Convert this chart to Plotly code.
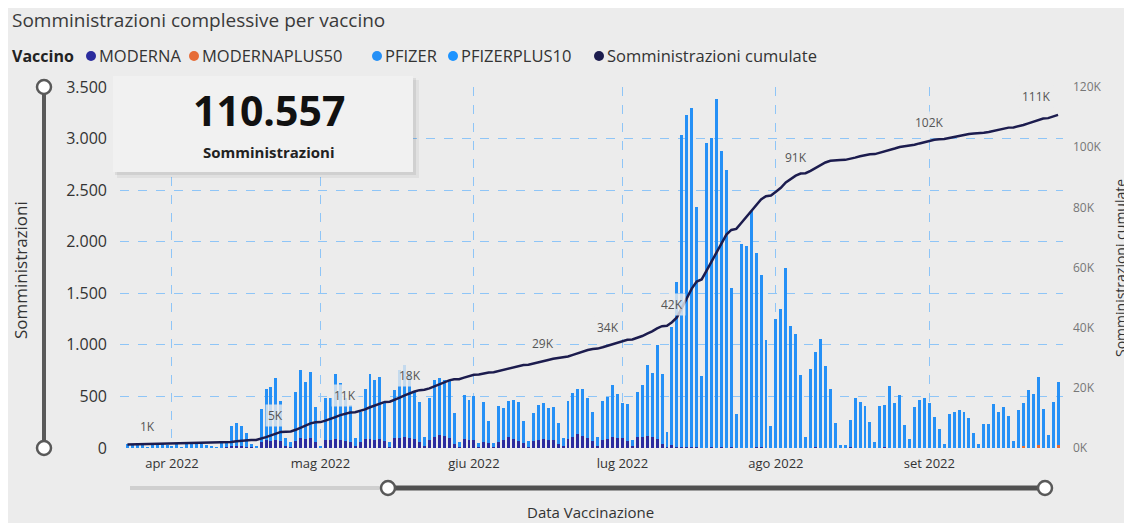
import numpy as np
import pandas as pd
import plotly.graph_objects as go

# ---------------- data ----------------
start_date = "2022-03-23"
end_date = "2022-09-27"
dates = pd.date_range(start_date, end_date, freq="D")

pfizer = [
    35, 40, 30, 25, 5, 45, 40, 35, 30, 20, 50, 5, 40, 45, 40, 35, 30, 10, 5, 60,
    65, 198, 225, 198, 135, 35, 20,
    315, 494, 525, 596, 394, 77, 50,
    476, 661, 553, 640, 340, 15,
    406, 401, 624, 553, 411, 357, 85,
    292, 484, 624, 579, 601, 363, 50,
    467, 656, 695, 624, 456, 389, 95,
    401, 549, 546, 539, 558, 302, 51,
    429, 390, 428, 35, 389, 220, 35,
    347, 305, 349, 375, 379, 215, 55,
    266, 337, 348, 310, 326, 199, 79,
    374, 426, 434, 449, 381, 282, 95,
    379, 408, 501, 424, 338, 357, 63,
    436, 506, 685, 614, 909, 680, 148,
    1146, 1600, 3025, 3225, 3290, 2335, 698,
    2960, 3000, 3380, 2870, 2700, 1540, 330,
    1980, 1960, 2300, 1882, 1672, 1050, 213,
    1250, 1350, 1750, 1183, 1102, 708, 110,
    769, 924, 1057, 795, 569, 239, 29,
    29, 263, 482, 449, 407, 255, 61,
    404, 408, 601, 433, 514, 223, 84,
    401, 465, 488, 433, 304, 181, 39,
    330, 349, 368, 346, 288, 142, 36,
    233, 233, 423, 352, 394, 314, 68,
    368, 413, 562, 524, 667, 378, 126,
    449, 618,
]

moderna = [
    0, 0, 0, 0, 0, 0, 0, 0, 0, 0, 0, 0, 0, 0, 0, 0, 0, 0, 0, 0,
    5, 15, 20, 15, 10, 5, 0,
    60, 75, 70, 80, 65, 20, 10,
    70, 95, 90, 100, 60, 5,
    75, 80, 90, 80, 70, 60, 15,
    60, 85, 90, 80, 90, 70, 10,
    95, 100, 110, 100, 90, 60, 15,
    80, 110, 130, 120, 95, 40, 10,
    85, 75, 80, 10, 60, 45, 10,
    60, 80, 110, 90, 70, 50, 10,
    70, 80, 85, 75, 75, 40, 15,
    85, 110, 135, 120, 100, 70, 15,
    80, 90, 110, 100, 95, 70, 15,
    110, 105, 120, 110, 90, 40, 10,
    30, 10, 5, 5, 10, 5, 0,
    0, 10, 0, 10, 0, 10, 0,
    0, 0, 0, 8, 8, 0, 0,
    0, 0, 0, 0, 0, 0, 0,
    0, 10, 0, 0, 0, 0, 0,
    0, 8, 0, 0, 0, 0, 0,
    0, 12, 0, 0, 0, 0, 0,
    0, 0, 0, 0, 0, 0, 0,
    0, 0, 0, 0, 0, 0, 0,
    0, 0, 0, 0, 0, 0, 0,
    0, 0, 0, 0, 0, 0, 0,
    0, 0,
]

modernaplus50 = [0] * 181 + [20, 0, 0, 25, 0, 0, 0, 25]
pfizerplus10 = [0] * 189

cumulate_start = 1100          # administrations before the shown period
card_value = 110557
label_idx = [4, 30, 44, 57, 84, 97, 110, 135, 162, 188]

month_ticks = ["2022-04-01", "2022-05-01", "2022-06-01", "2022-07-01", "2022-08-01", "2022-09-01"]
month_labels = ["apr 2022", "mag 2022", "giu 2022", "lug 2022", "ago 2022", "set 2022"]
left_ticks = [0, 500, 1000, 1500, 2000, 2500, 3000, 3500]
right_ticks = [0, 20000, 40000, 60000, 80000, 100000, 120000]
right_labels = ["0K", "20K", "40K", "60K", "80K", "100K", "120K"]

series_names = ["MODERNA", "MODERNAPLUS50", "PFIZER", "PFIZERPLUS10"]
series_vals = [moderna, modernaplus50, pfizer, pfizerplus10]
series_colors = ["#2B2C9E", "#E66C37", "#2590F6", "#1C93FF"]
line_color = "#1C1C4E"

# ---------------- geometry (screen pixels; the page has an 8px body margin) ----------------
OFF = 8
SW, SH = 1132, 523
W, H = SW - OFF, SH - OFF
SL, SR, ST, SB = 120, 1063, 87, 448          # plot area in screen pixels
FONT = "Open Sans, Noto Sans, sans-serif"


def xp(px):
    return (px - SL) / (SR - SL)


def yp(py):
    return (SB - py) / (SB - ST)


totals = np.sum(np.array(series_vals), axis=0)
cumulate = cumulate_start + np.cumsum(totals)

fig = go.Figure()
for name, vals, col in zip(series_names, series_vals, series_colors):
    fig.add_trace(go.Bar(x=dates, y=vals, name=name, marker_color=col,
                         marker_line_width=0, showlegend=False))
fig.add_trace(go.Scatter(x=dates, y=cumulate, name="Somministrazioni cumulate",
                         mode="lines", line=dict(color=line_color, width=2.5),
                         yaxis="y2", showlegend=False))

grid = "#8EC5F7"
fig.update_layout(
    width=W, height=H, autosize=False,
    margin=dict(l=SL - OFF, r=SW - SR, t=ST - OFF, b=SH - SB, pad=0),
    paper_bgcolor="#ECECEC", plot_bgcolor="rgba(0,0,0,0)",
    barmode="stack", bargap=0.4,
    separators=",.",
    font=dict(family=FONT, color="#333"),
    xaxis=dict(type="date", range=["2022-03-21 12:00", "2022-09-28 00:00"],
               tickvals=month_ticks, ticktext=month_labels,
               showgrid=True, gridcolor=grid, griddash="dash", gridwidth=1,
               zeroline=False, showline=False, ticks="",
               tickfont=dict(size=13, color="#333"), ticklabelstandoff=6),
    yaxis=dict(range=[0, 3500], tickvals=left_ticks, tickformat=",d",
               showgrid=True, gridcolor=grid, griddash="dash", gridwidth=1,
               zeroline=False, showline=False, ticks="",
               tickfont=dict(size=16, color="#333"), ticklabelstandoff=12),
    yaxis2=dict(range=[0, 120000], overlaying="y", side="right",
                tickvals=right_ticks, ticktext=right_labels,
                showgrid=False, zeroline=False, showline=False, ticks="",
                tickfont=dict(size=12, color="#777"), ticklabelstandoff=9),
)

shapes = []
# card shadow + card
shapes.append(dict(type="rect", xref="paper", yref="paper", layer="above",
                   x0=xp(117), x1=xp(419), y0=yp(178), y1=yp(80),
                   fillcolor="rgba(0,0,0,0.05)", line_width=0))
shapes.append(dict(type="rect", xref="paper", yref="paper", layer="above",
                   x0=xp(115), x1=xp(416), y0=yp(175), y1=yp(78),
                   fillcolor="rgba(0,0,0,0.07)", line_width=0))
shapes.append(dict(type="rect", xref="paper", yref="paper", layer="above",
                   x0=xp(113), x1=xp(413), y0=yp(172), y1=yp(76),
                   fillcolor="#F1F1F1", line_width=0))
# vertical slider
shapes.append(dict(type="line", xref="paper", yref="paper", layer="above",
                   x0=xp(44), x1=xp(44), y0=yp(448), y1=yp(87),
                   line=dict(color="#595959", width=4)))
# horizontal slider
shapes.append(dict(type="line", xref="paper", yref="paper", layer="above",
                   x0=xp(130), x1=xp(388), y0=yp(488), y1=yp(488),
                   line=dict(color="#CFCFCF", width=4)))
shapes.append(dict(type="line", xref="paper", yref="paper", layer="above",
                   x0=xp(388), x1=xp(1045), y0=yp(488), y1=yp(488),
                   line=dict(color="#505050", width=5)))
for cx, cy in [(44, 87), (44, 448), (388, 488), (1045, 488)]:
    shapes.append(dict(type="circle", xref="paper", yref="paper", layer="above",
                       x0=xp(cx - 7), x1=xp(cx + 7), y0=yp(cy + 7), y1=yp(cy - 7),
                       fillcolor="#FFFFFF", line=dict(color="#595959", width=2.5)))

# legend dots
leg_dots = [91, 194, 377, 453, 599]
leg_text_x = [97, 200, 383, 459, 605]
leg_names = series_names + ["Somministrazioni cumulate"]
leg_cols = series_colors + [line_color]
LEG_Y = 56
for cx, col in zip(leg_dots, leg_cols):
    shapes.append(dict(type="circle", xref="paper", yref="paper", layer="above",
                       x0=xp(cx - 5), x1=xp(cx + 5), y0=yp(LEG_Y + 5), y1=yp(LEG_Y - 5),
                       fillcolor=col, line_width=0))

annotations = []
annotations.append(dict(text="Somministrazioni complessive per vaccino", xref="paper", yref="paper",
                        x=xp(10), y=yp(20), xanchor="left", yanchor="middle", showarrow=False,
                        font=dict(size=19, color="#3A3A3A", family=FONT)))
annotations.append(dict(text="<b>Vaccino</b>", xref="paper", yref="paper",
                        x=xp(10), y=yp(LEG_Y), xanchor="left", yanchor="middle", showarrow=False,
                        font=dict(size=16, color="#222", family=FONT)))
for tx, nm in zip(leg_text_x, leg_names):
    annotations.append(dict(text=nm, xref="paper", yref="paper",
                            x=xp(tx), y=yp(LEG_Y), xanchor="left", yanchor="middle", showarrow=False,
                            font=dict(size=16.5, color="#333", family=FONT)))
# card texts
annotations.append(dict(text="<b>" + f"{card_value:,}".replace(",", ".") + "</b>",
                        xref="paper", yref="paper", x=xp(269), y=yp(110),
                        xanchor="center", yanchor="middle", showarrow=False,
                        font=dict(size=41, color="#111", family=FONT)))
annotations.append(dict(text="<b>Somministrazioni</b>", xref="paper", yref="paper",
                        x=xp(268), y=yp(152), xanchor="center", yanchor="middle", showarrow=False,
                        font=dict(size=15, color="#222", family=FONT)))
# axis titles
annotations.append(dict(text="Somministrazioni", xref="paper", yref="paper",
                        x=xp(20), y=yp(270), xanchor="center", yanchor="middle", showarrow=False,
                        textangle=-90, font=dict(size=17, color="#333", family=FONT)))
annotations.append(dict(text="Somministrazioni cumulate", xref="paper", yref="paper",
                        x=xp(1120), y=yp(268), xanchor="center", yanchor="middle", showarrow=False,
                        textangle=-90, font=dict(size=14, color="#333", family=FONT)))
annotations.append(dict(text="Data Vaccinazione", xref="paper", yref="paper",
                        x=xp(590), y=yp(512), xanchor="center", yanchor="middle", showarrow=False,
                        font=dict(size=15, color="#333", family=FONT)))
# line data labels
for i in label_idx:
    annotations.append(dict(text=f"{int(round(cumulate[i] / 1000))}K",
                            x=dates[i], y=cumulate[i], xref="x", yref="y2",
                            yshift=18, xshift=(-22 if i == label_idx[-1] else 0),
                            showarrow=False, bgcolor="rgba(236,236,236,0.8)", borderpad=2,
                            font=dict(size=12, color="#555", family=FONT)))

fig.update_layout(shapes=shapes, annotations=annotations)
fig.write_html("out.html")
